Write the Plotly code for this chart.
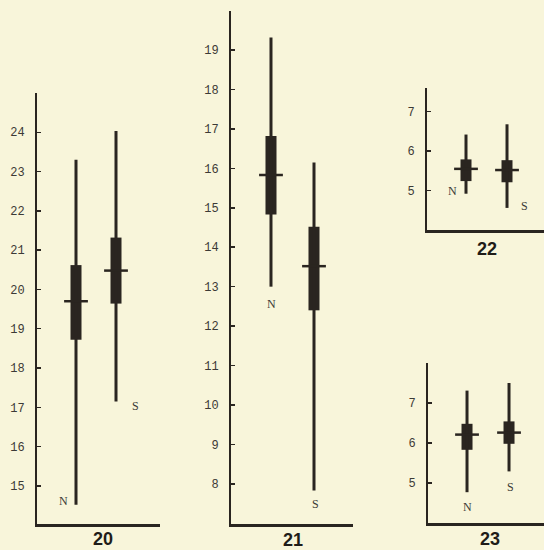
import plotly.graph_objects as go

# ---- data ----
groups = ["N", "S"]
panel_titles = ["20", "21", "22", "23"]

p20_min = [14.52, 17.15]
p20_max = [23.30, 24.03]
p20_box_lo = [18.72, 19.64]
p20_box_hi = [20.62, 21.32]
p20_mean = [19.70, 20.48]
p20_ticks = [15, 16, 17, 18, 19, 20, 21, 22, 23, 24]

p21_min = [13.00, 7.83]
p21_max = [19.32, 16.15]
p21_box_lo = [14.83, 12.40]
p21_box_hi = [16.82, 14.52]
p21_mean = [15.83, 13.52]
p21_ticks = [8, 9, 10, 11, 12, 13, 14, 15, 16, 17, 18, 19]

p22_min = [4.92, 4.56]
p22_max = [6.42, 6.68]
p22_box_lo = [5.24, 5.21]
p22_box_hi = [5.79, 5.77]
p22_mean = [5.55, 5.52]
p22_ticks = [5, 6, 7]

p23_min = [4.77, 5.29]
p23_max = [7.31, 7.50]
p23_box_lo = [5.83, 5.98]
p23_box_hi = [6.48, 6.54]
p23_mean = [6.21, 6.26]
p23_ticks = [5, 6, 7]

# ---- styling / layout ----
W, H = 544, 550
INK = "#2a2520"
BG = "#f8f5da"
LABEL = "#3c3a36"

panels = [
    dict(mn=p20_min, mx=p20_max, lo=p20_box_lo, hi=p20_box_hi, mean=p20_mean, ticks=p20_ticks,
         xpx=(37, 160), ypx=(93, 524), yr=[14.03, 25.0], xr=[-0.975, 2.10], bw=0.275,
         lab=[(-13, 4), (19, -5)], title=(103, 539)),
    dict(mn=p21_min, mx=p21_max, lo=p21_box_lo, hi=p21_box_hi, mean=p21_mean, ticks=p21_ticks,
         xpx=(231, 353), ypx=(10.7, 524), yr=[6.98, 20.0], xr=[-0.93, 1.907], bw=0.256,
         lab=[(1, -17), (1, -14)], title=(293, 540)),
    dict(mn=p22_min, mx=p22_max, lo=p22_box_lo, hi=p22_box_hi, mean=p22_mean, ticks=p22_ticks,
         xpx=(427, 544), ypx=(88, 230), yr=[4.0, 7.6], xr=[-0.951, 1.902], bw=0.268,
         lab=[(-14, 3), (17, 2)], title=(487, 249)),
    dict(mn=p23_min, mx=p23_max, lo=p23_box_lo, hi=p23_box_hi, mean=p23_mean, ticks=p23_ticks,
         xpx=(428, 544), ypx=(363, 523), yr=[4.0, 8.0], xr=[-0.929, 1.833], bw=0.262,
         lab=[(0, -15), (1, -16)], title=(490, 539)),
]

fig = go.Figure()
annotations = []
layout_axes = {}

for i, p in enumerate(panels):
    n = i + 1
    xa = "x" if n == 1 else f"x{n}"
    ya = "y" if n == 1 else f"y{n}"
    xkey = "xaxis" if n == 1 else f"xaxis{n}"
    ykey = "yaxis" if n == 1 else f"yaxis{n}"

    # whiskers (range lines)
    wx, wy = [], []
    for g, a, b in zip(groups, p["mn"], p["mx"]):
        wx += [g, g, None]
        wy += [a, b, None]
    fig.add_trace(go.Scatter(x=wx, y=wy, mode="lines", line=dict(color=INK, width=3),
                             xaxis=xa, yaxis=ya, showlegend=False, hoverinfo="skip"))
    # thick boxes
    fig.add_trace(go.Bar(x=groups, base=p["lo"], y=[h - l for h, l in zip(p["hi"], p["lo"])],
                         width=p["bw"], marker=dict(color=INK, line=dict(width=0)),
                         xaxis=xa, yaxis=ya, showlegend=False, hoverinfo="skip"))
    # mean ticks
    fig.add_trace(go.Scatter(x=groups, y=p["mean"], mode="markers",
                             marker=dict(symbol="line-ew", size=17, line=dict(color=INK, width=2.5)),
                             xaxis=xa, yaxis=ya, showlegend=False, hoverinfo="skip"))

    layout_axes[xkey] = dict(
        domain=[p["xpx"][0] / W, p["xpx"][1] / W], anchor=ya, type="category",
        categoryorder="array", categoryarray=groups, range=p["xr"],
        showline=True, linecolor=INK, linewidth=2.5, showticklabels=False, ticks="",
        showgrid=False, zeroline=False, fixedrange=True)
    layout_axes[ykey] = dict(
        domain=[1 - p["ypx"][1] / H, 1 - p["ypx"][0] / H], anchor=xa, range=p["yr"],
        tickvals=p["ticks"], ticktext=[str(t) for t in p["ticks"]],
        showline=True, linecolor=INK, linewidth=2, ticks="inside", ticklen=4, tickwidth=1.5,
        tickcolor=INK, ticklabelstandoff=8,
        tickfont=dict(family="Liberation Mono", size=12, color=LABEL),
        showgrid=False, zeroline=False, fixedrange=True)

    # N / S labels next to whisker ends
    for g, a, (dx, dy) in zip(groups, p["mn"], p["lab"]):
        annotations.append(dict(x=g, y=a, xref=xa, yref=ya, text=g, showarrow=False,
                                xshift=dx, yshift=dy,
                                font=dict(family="Liberation Serif", size=12, color=LABEL)))
    # panel number
    annotations.append(dict(x=p["title"][0] / W, y=1 - p["title"][1] / H, xref="paper", yref="paper",
                            text=f"<b>{panel_titles[i]}</b>", showarrow=False,
                            xanchor="center", yanchor="middle",
                            font=dict(family="Liberation Sans", size=18, color="#1f1c18")))

fig.update_layout(
    width=W, height=H, margin=dict(l=0, r=0, t=0, b=0),
    paper_bgcolor=BG, plot_bgcolor=BG, barmode="overlay",
    annotations=annotations, showlegend=False, **layout_axes)

fig.write_html(
    "out.html",
    config={"displayModeBar": False, "staticPlot": True},
    post_script="document.body.style.margin='0';document.body.style.padding='0';"
                "document.body.style.background='" + BG + "';document.body.style.overflow='hidden';",
)
